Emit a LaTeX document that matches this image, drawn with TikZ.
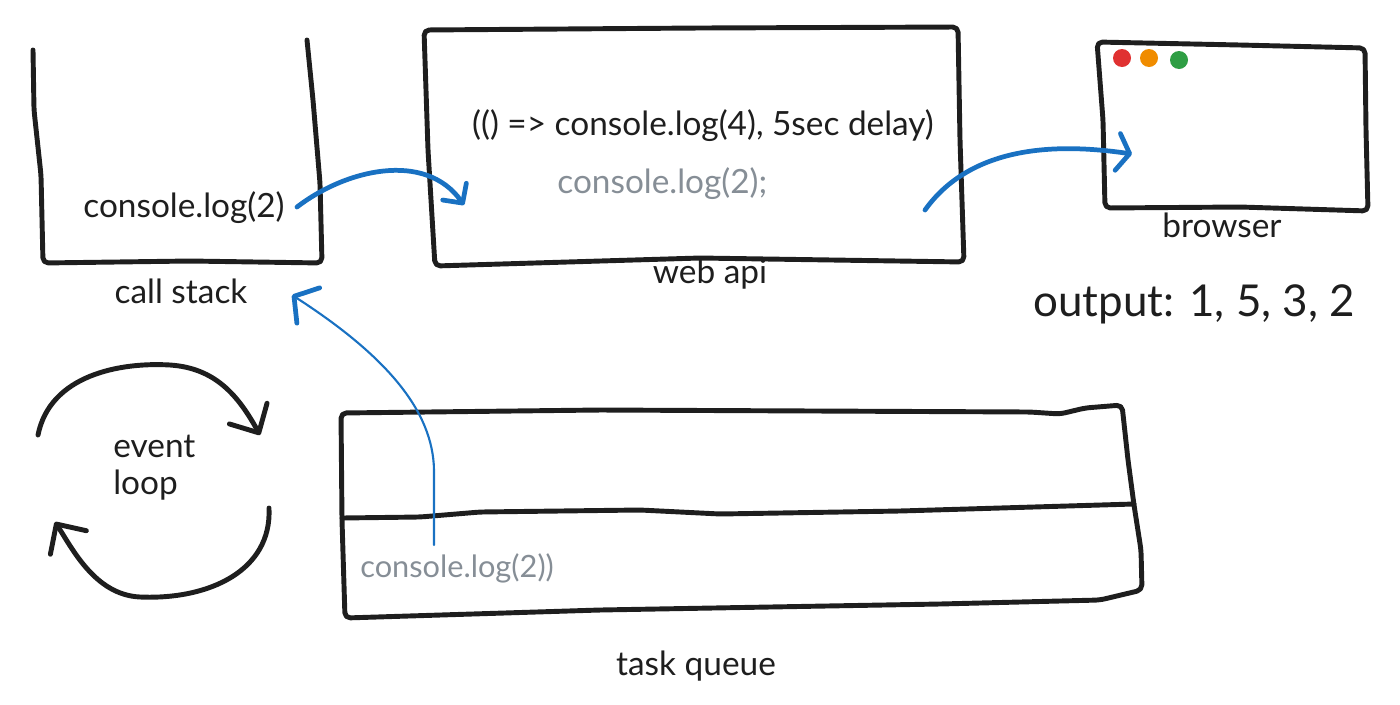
\documentclass[tikz,border=0pt]{standalone}
\usepackage{fontspec}
\setmainfont{Lato}
\usepackage{xcolor}
\usepackage{tikz}
\usetikzlibrary{arrows.meta, positioning}
\definecolor{ink}{HTML}{1E1E1E}
\definecolor{flowblue}{HTML}{1971C2}
\definecolor{muted}{HTML}{868E96}
\definecolor{dotred}{HTML}{E03131}
\definecolor{dotorange}{HTML}{F08C00}
\definecolor{dotgreen}{HTML}{2F9E44}

\begin{document}
\begin{tikzpicture}[
    x=0.02cm, y=-0.02cm,
    sketch/.style={draw=ink, line width=2.8pt, line join=round, line cap=round, rounded corners=3pt},
    txt/.style={inner sep=0pt, text=ink, font=\fontsize{19}{20.5}\selectfont},
    hint/.style={txt, text=muted},
    flow/.style={draw=flowblue, line width=2.7pt, line cap=round, -{Straight Barb[length=0.28cm, width=0.58cm, round]}},
    wideflow/.style={flow, -{Straight Barb[length=0.24cm, width=0.74cm, round]}},
    thinflow/.style={draw=flowblue, line width=1.2pt, line cap=round, -{Straight Barb[length=0.34cm, width=0.84cm, line width=2.7pt, round]}},
    loopy/.style={sketch, rounded corners=0pt, -{Straight Barb[length=0.44cm, width=0.86cm, round]}}
]
    \useasboundingbox (0,0) rectangle (1400,704);

    \draw[sketch] (33,50) -- (34,110) -- (41,175) -- (43,263) -- (190,261) -- (322,263) -- (320,183) -- (313,100) -- (307,40);
    \draw[sketch] (424,30) -- (700,28) -- (958,27) -- (960,140) -- (964,262) -- (700,258) -- (435,266) -- (428,150) -- cycle;
    \draw[sketch] (1097,42) -- (1240,45) -- (1365,48) -- (1366,130) -- (1368,211) -- (1240,207) -- (1105,208) -- (1103,120) -- cycle;
    \draw[sketch] (341,413) -- (600,410) -- (1030,412) -- (1060,414) -- (1085,408) -- (1122,405) -- (1128,460) -- (1134,505) -- (1141,550) -- (1142,590) -- (1100,600) -- (940,604) -- (600,610) -- (345,618) -- (342,520) -- cycle;
    \draw[sketch] (342,518) -- (420,517) -- (480,512) -- (640,510) -- (720,514) -- (900,511) -- (1134,504);

    \fill[dotred] (1122,58) circle[radius=0.18cm];
    \fill[dotorange] (1149,58) circle[radius=0.18cm];
    \fill[dotgreen] (1179,60) circle[radius=0.18cm];

    \node[txt, anchor=base west] (stackcall) at (83,217) {console.log(2)};
    \node[txt, anchor=base] (stacklabel) at (181,303) {call stack};
    \node[txt, anchor=base] (apitimer) at (703,135) {(() => console.log(4), 5sec delay)};
    \node[hint, anchor=base west] (apicall) at (557,193) {console.log(2);};
    \node[txt, anchor=base] (apilabel) at (710,283) {web api};
    \node[txt, anchor=base] (browserlabel) at (1222,237) {browser};
    \node[txt, anchor=base west, font=\fontsize{25}{27}\selectfont] (output) at (1033,316) {output: 1, 5, 3, 2};
    \node[txt, anchor=base west, align=left] (looplabel) at (113,494) {event\\loop};
    \node[hint, anchor=base west, font=\fontsize{17.5}{19}\selectfont] (queuecall) at (360,577) {console.log(2))};
    \node[txt, anchor=base] (queuelabel) at (696,675) {task queue};

    \coordinate (stackout) at (297,207);
    \coordinate (apiin) at (464,205);
    \coordinate (apiout) at (925,210);
    \coordinate (browserin) at (1132,154);
    \coordinate (queueout) at (434,545);
    \coordinate (stackin) at (292,295);

    \draw[flow] (stackout) .. controls (345,170) and (425,150) .. (apiin);
    \draw[wideflow] (apiout) .. controls (975,140) and (1070,145) .. (browserin);
    \draw[thinflow] (queueout) -- (434,470) .. controls (433,410) and (385,355) .. (stackin);

    \draw[loopy] (38,435) .. controls (50,375) and (120,362) .. (170,365) .. controls (215,368) and (238,395) .. (260,435);
    \draw[loopy] (269,508) .. controls (272,570) and (210,600) .. (140,597) .. controls (95,595) and (72,548) .. (55,522);
\end{tikzpicture}
\end{document}
